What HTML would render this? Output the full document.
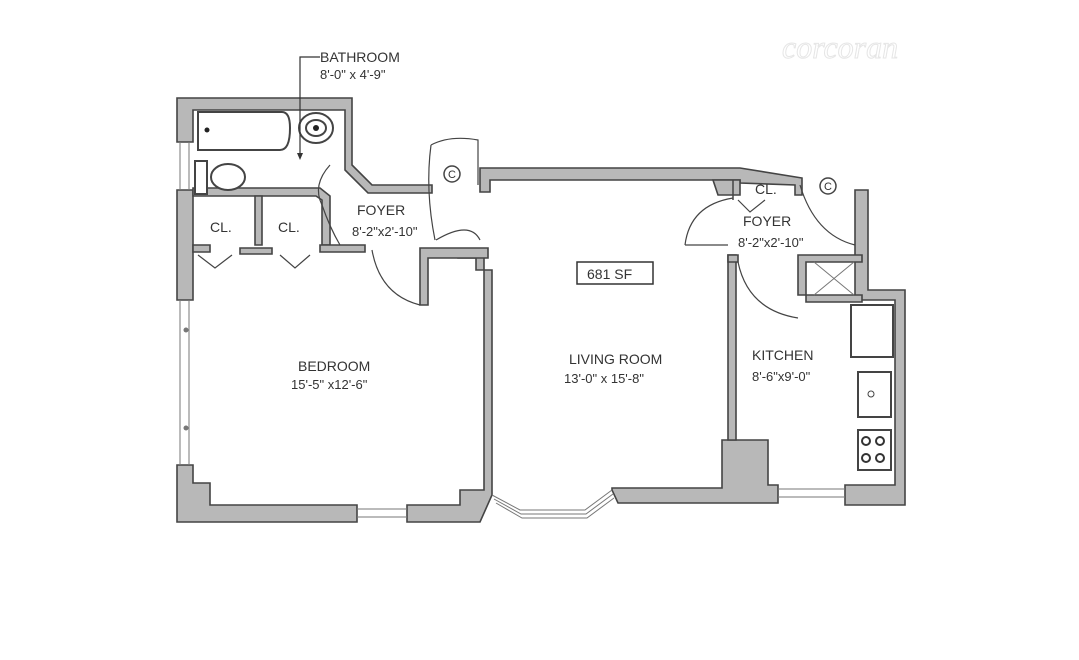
<!DOCTYPE html>
<html><head><meta charset="utf-8"><style>
html,body{margin:0;padding:0;background:#fff;width:1079px;height:660px;overflow:hidden}
svg{display:block}
text{font-family:"Liberation Sans",sans-serif;fill:#333}
</style></head><body>
<svg width="1079" height="660" viewBox="0 0 1079 660">
<g fill="#b8b8b8" stroke="#444" stroke-width="1.6" stroke-linejoin="miter">
<path d="M177 98 H352 V165 L372 185 H432 V193 H368 L345 170 V110 H193 V142 H177 Z"/>
<path d="M177 190 H193 V300 H177 Z"/>
<path d="M177 465 H193 V483 H210 V505 H357 V522 H177 Z"/>
<path d="M407 505 H460 V490 H484 V250 H458 V258 H476 V270 H492 V495 L480 522 H407 Z"/>
<path d="M480 168 H740 L802 178 V195 L795 195 V185 L740 183 V180 H490 V192 H480 Z"/>
<path d="M713 180 H740 V195 H718 Z"/>
<path d="M193 188 H320 L330 196 V245 H322 V200 L316 196 H193 Z"/>
<path d="M255 196 H262 V245 H255 Z"/>
<path d="M193 245 H210 V252 H193 Z"/>
<path d="M240 248 H272 V254 H240 Z"/>
<path d="M320 245 H365 V252 H320 Z"/>
<path d="M420 248 H488 V258 H428 V305 H420 Z"/>
<path d="M612 488 H722 V440 H768 V485 H778 V503 H618 L612 490 Z"/>
<path d="M728 255 H736 V440 H728 Z"/>
<path d="M728 255 H738 V262 H728 Z"/>
<path d="M855 190 H868 V290 H905 V505 H845 V485 H895 V300 H855 Z"/>
<path d="M798 255 H862 V262 H806 V295 H798 Z"/>
<path d="M806 295 H862 V302 H806 Z"/>
</g>
<path d="M733 180 V200" stroke="#444" stroke-width="1.5"/>
<g stroke="#777" stroke-width="1" fill="none">
<path d="M180 142 V190 M189 142 V190"/>
<path d="M180 300 V465 M189 300 V465"/>
<path d="M357 509 H407 M357 517 H407"/>
<path d="M778 489 H845 M778 497 H845"/>
<path d="M492 495 L520 510 H585 L612 490 M496 503 L522 518 H587 L614 498 M494 499 L521 514 H586 L613 494"/>
<path d="M814 262 L854 295 M854 262 L814 295"/>
</g>
<circle cx="186" cy="330" r="2.5" fill="#777"/><circle cx="186" cy="428" r="2.5" fill="#777"/>
<g fill="#fff" stroke="#444" stroke-width="2">
<path d="M198 112 H282 Q290 112 290 128 Q290 150 280 150 H198 Z"/>
<ellipse cx="316" cy="128" rx="17" ry="15"/><ellipse cx="316" cy="128" rx="10" ry="8"/>
<rect x="195" y="161" width="12" height="33"/>
<ellipse cx="228" cy="177" rx="17" ry="13"/>
<rect x="851" y="305" width="42" height="52"/>
<rect x="858" y="372" width="33" height="45"/>
<rect x="858" y="430" width="33" height="40"/>
</g>
<circle cx="207" cy="130" r="2.5" fill="#222"/><circle cx="316" cy="128" r="3" fill="#222"/>
<circle cx="871" cy="394" r="3" fill="none" stroke="#444"/>
<g fill="none" stroke="#333" stroke-width="2">
<circle cx="866" cy="441" r="4"/><circle cx="880" cy="441" r="4"/><circle cx="866" cy="458" r="4"/><circle cx="880" cy="458" r="4"/>
</g>
<g fill="none" stroke="#444" stroke-width="1.2">
<path d="M330 165 Q312 185 322 205 Q330 228 340 245"/>
<path d="M431 145 Q450 135 478 140 L478 185"/>
<path d="M431 145 Q425 190 435 240"/>
<path d="M436 240 Q470 220 480 240"/>
<path d="M372 250 Q380 295 420 305"/>
<path d="M685 245 Q690 205 733 198 M685 245 H728"/>
<path d="M800 185 Q815 235 855 245"/>
<path d="M738 262 Q748 310 798 318"/>
<path d="M198 255 L215 268 L232 255 M280 255 L295 268 L310 255"/>
<path d="M738 200 L750 212 L765 200"/>
<path d="M320 57 H300 V158" stroke="#333"/>
</g>
<path d="M297 153 L300 160 L303 153 Z" fill="#333"/>
<g fill="none" stroke="#444" stroke-width="1.5">
<circle cx="452" cy="174" r="8"/><circle cx="828" cy="186" r="8"/>
</g>
<text x="448" y="178" style="font-size:11px">C</text><text x="824" y="190" style="font-size:11px">C</text>
<rect x="577" y="262" width="76" height="22" fill="#fff" stroke="#333" stroke-width="1.5"/>
<g style="font-size:14px">
<text x="320" y="62">BATHROOM</text>
<text x="320" y="79" style="font-size:13px">8'-0" x 4'-9"</text>
<text x="210" y="232">CL.</text>
<text x="278" y="232">CL.</text>
<text x="357" y="215">FOYER</text>
<text x="352" y="236" style="font-size:13px">8'-2"x2'-10"</text>
<text x="755" y="194">CL.</text>
<text x="743" y="226">FOYER</text>
<text x="738" y="247" style="font-size:13px">8'-2"x2'-10"</text>
<text x="587" y="279">681 SF</text>
<text x="298" y="371">BEDROOM</text>
<text x="291" y="389" style="font-size:13px">15'-5" x12'-6"</text>
<text x="569" y="364">LIVING ROOM</text>
<text x="564" y="383" style="font-size:13px">13'-0" x 15'-8"</text>
<text x="752" y="360">KITCHEN</text>
<text x="752" y="381" style="font-size:13px">8'-6"x9'-0"</text>
</g>
<text x="782" y="58" style="font-size:32px;font-style:italic;font-family:'Liberation Serif',serif;fill:#fff;stroke:#e6e6e6;stroke-width:1">corcoran</text>
</svg>
</body></html>
